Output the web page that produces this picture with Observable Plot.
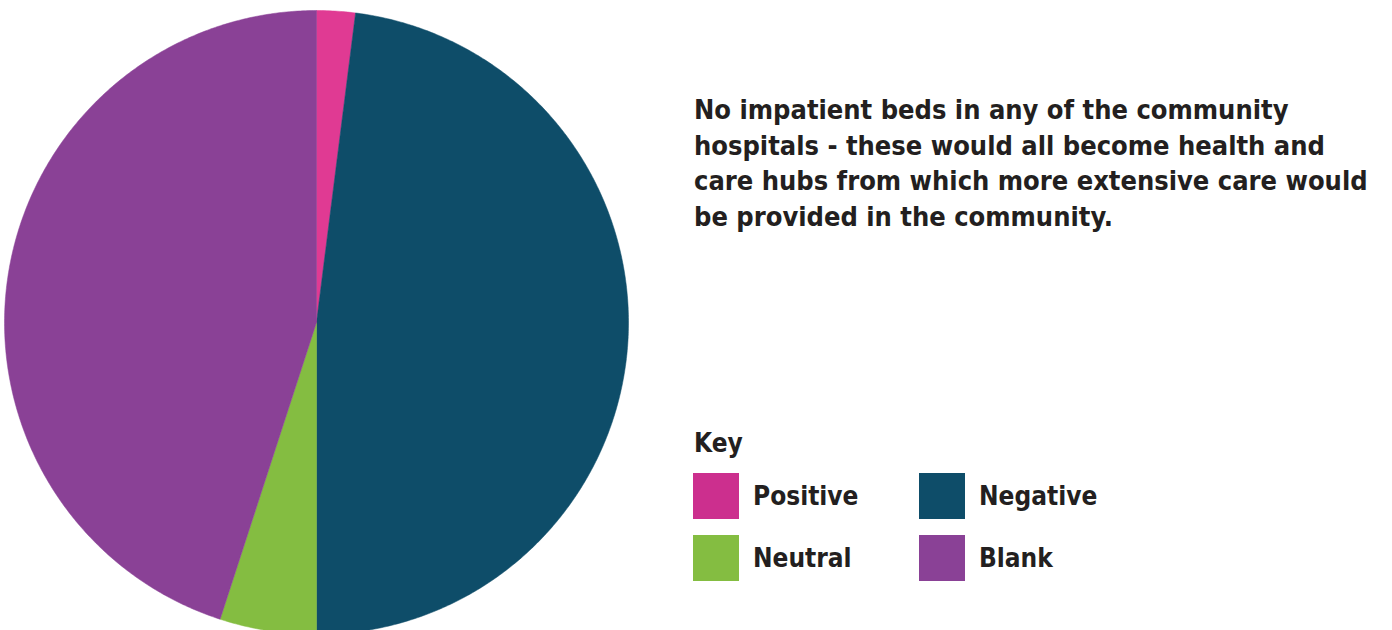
<!DOCTYPE html>
<html>
<head>
<meta charset="utf-8">
<script src="https://cdn.jsdelivr.net/npm/d3@7"></script>
<script src="https://cdn.jsdelivr.net/npm/@observablehq/plot@0.6"></script>
<style>
  html, body { margin: 0; padding: 0; background: #fff; overflow: hidden; width: 1392px; height: 630px; }
  #chart { position: absolute; left: 0; top: 0; }
  .txt { position: absolute; font-family: "DejaVu Sans Condensed", "DejaVu Sans", sans-serif; font-weight: bold; color: #231F20; white-space: nowrap; }
  #title { left: 694px; top: 92px; font-size: 27px; line-height: 35.5px; }
  #key { left: 694px; top: 428px; font-size: 26px; }
  .sw { position: absolute; width: 46px; height: 46px; }
  .lab { position: absolute; font-size: 26px; line-height: 46px; }
</style>
</head>
<body>
<div id="chart"></div>
<div id="title" class="txt"></div>
<div id="key" class="txt">Key</div>
<div id="legend"></div>
<script>
const categories = ["Positive", "Negative", "Neutral", "Blank"];
const values = [2, 48, 5, 45];
const colors = ["#E03A93", "#0E4D69", "#84BD41", "#8A4196"];
const legendColors = ["#CC2F8E", "#0E4D69", "#84BD41", "#8A4196"];
const titleLines = [
  "No impatient beds in any of the community",
  "hospitals - these would all become health and",
  "care hubs from which more extensive care would",
  "be provided in the community."
];

// pie geometry via d3.pie, drawn through Plot's x/y scales
const pie = d3.pie().sort(null).value(d => d.value)(categories.map((c, i) => ({cat: c, value: values[i]})));
const pts = [];
for (const a of pie) {
  const cat = a.data.cat;
  pts.push({cat, x: 0, y: 0});
  const n = Math.max(2, Math.ceil((a.endAngle - a.startAngle) / (Math.PI / 360)));
  for (let k = 0; k <= n; k++) {
    const t = a.startAngle + (a.endAngle - a.startAngle) * k / n;
    pts.push({cat, x: Math.sin(t), y: Math.cos(t)});
  }
  pts.push({cat, x: 0, y: 0});
}

const chart = Plot.plot({
  width: 640,
  height: 640,
  marginLeft: 4,
  marginRight: 12,
  marginTop: 10,
  marginBottom: 6,
  x: {domain: [-1, 1], axis: null},
  y: {domain: [-1, 1], axis: null},
  color: {domain: categories, range: colors},
  marks: [
    Plot.line(pts, {x: "x", y: "y", z: "cat", fill: "cat", stroke: "cat", strokeWidth: 0.5, curve: "linear"})
  ]
});
document.getElementById("chart").appendChild(chart);

document.getElementById("title").innerHTML = titleLines.join("<br>");

const legend = document.getElementById("legend");
const pos = [[693, 473], [919, 473], [693, 535], [919, 535]];
categories.forEach((c, i) => {
  const sw = document.createElement("div");
  sw.className = "sw";
  sw.style.left = pos[i][0] + "px";
  sw.style.top = pos[i][1] + "px";
  sw.style.background = legendColors[i];
  legend.appendChild(sw);
  const lab = document.createElement("div");
  lab.className = "txt lab";
  lab.style.left = (pos[i][0] + 60) + "px";
  lab.style.top = (pos[i][1]) + "px";
  lab.textContent = c;
  legend.appendChild(lab);
});
</script>
</body>
</html>
